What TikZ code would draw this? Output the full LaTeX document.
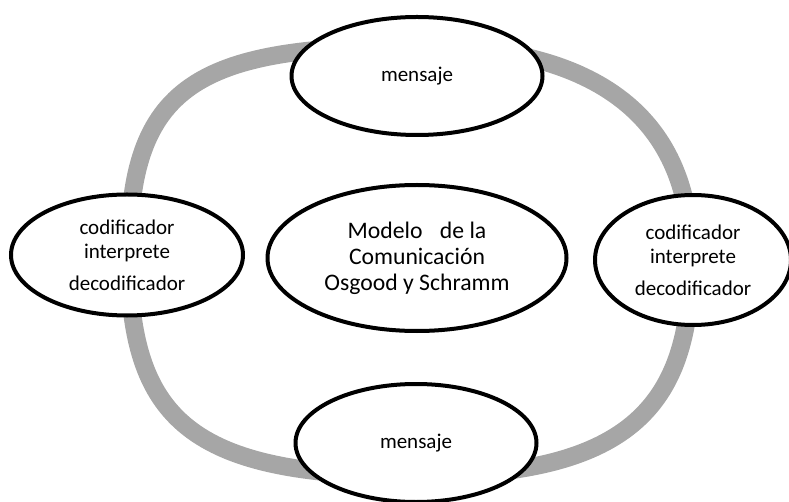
\documentclass[tikz,border=0pt]{standalone}
\usepackage{fontspec}
\setmainfont{Carlito}
\usetikzlibrary{shapes.geometric}
\definecolor{ringgray}{RGB}{166,166,166}
\begin{document}
\begin{tikzpicture}[x=1pt,y=-1pt,
  bubble/.style={draw=black, line width=4pt, fill=white, ellipse, inner sep=0pt, align=center, text=black},
  sidefont/.style={font=\fontsize{21}{24}\selectfont},
  ring/.style={draw=ringgray, line width=18pt}]
\useasboundingbox (0,0) rectangle (789,502);
\coordinate (rT) at (417,46);
\coordinate (rL) at (129,255);
\coordinate (rB) at (416,476);
\coordinate (rR) at (691,260);
\draw[ring] (rT) .. controls (197,46) and (129,85) .. (rL)
  .. controls (129,420) and (190,476) .. (rB)
  .. controls (626,476) and (691,410) .. (rR)
  .. controls (691,110) and (587,46) .. (rT) -- cycle;
\node[bubble, sidefont, minimum width=251pt, minimum height=118pt] (top) at (417,76) {mensaje};
\node[bubble, sidefont, minimum width=241pt, minimum height=118pt] (bottom) at (416,443) {mensaje};
\node[bubble, sidefont, minimum width=232pt, minimum height=121pt] (left) at (127,255)
  {codificador\\interprete\\[8pt]decodificador};
\node[bubble, sidefont, minimum width=196pt, minimum height=130pt] (right) at (693,260)
  {codificador\\interprete\\[8pt]decodificador};
\node[bubble, font=\fontsize{23.7}{26}\selectfont, minimum width=299pt, minimum height=146pt] (center) at (417,258)
  {Modelo\hspace{12pt} de la\\Comunicación\\Osgood y Schramm};
\end{tikzpicture}
\end{document}
